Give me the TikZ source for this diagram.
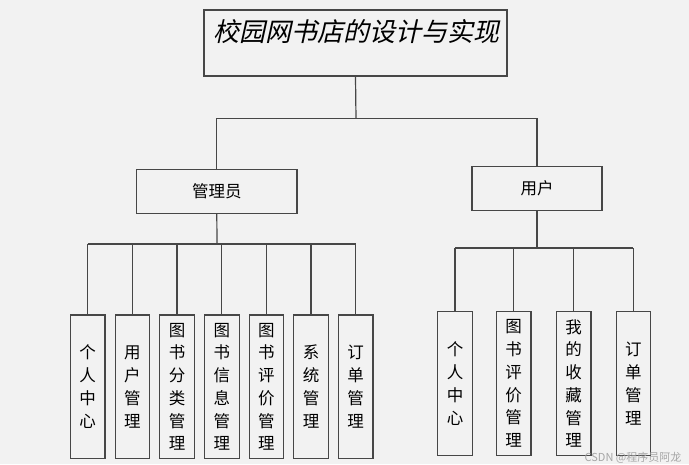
\documentclass[tikz,border=0pt]{standalone}
\usepackage{fontspec}
\newfontfamily\cjk{Noto Sans CJK SC}
\newfontfamily\cjkit{Noto Sans CJK SC}[FakeSlant=0.22]
\begin{document}
\begin{tikzpicture}[x=1pt,y=-1pt,
  box/.style={draw=black!72,line width=1.2pt,inner sep=0pt,fill=none},
  leaf/.style={box,minimum width=34.6pt,minimum height=143.7pt,align=center,
    font=\cjk\fontsize{16.5}{23}\selectfont},
  wire/.style={draw=black!72,line width=1.2pt}]
\fill[fill={rgb,255:red,242;green,242;blue,242}] (0,0) rectangle (689,464);
\useasboundingbox (0,0) rectangle (689,464);
% title
\node[box,minimum width=303pt,minimum height=66pt] (title) at (355.5,43) {};
\node[font=\cjkit\fontsize{26}{30}\selectfont,inner sep=0pt] (titletext) at (356,32) {校园网书店的设计与实现};
% second level
\node[box,minimum width=160.3pt,minimum height=43.6pt,font=\cjk\fontsize{16.5}{20}\selectfont] (admin) at (216.8,191.5) {管理员};
\node[box,minimum width=130pt,minimum height=43.6pt,font=\cjk\fontsize{16.5}{20}\selectfont] (user) at (537,188.5) {用户};
\coordinate (bus1) at (356,118.7);
\draw[wire] (title.south) -- (bus1);
\draw[wire] (admin.north) -- (admin.north |- bus1) -- (user.north |- bus1) -- (user.north);
% admin leaves
\node[leaf] (a1) at (87.7,386.8) {个\\人\\中\\心};
\node[leaf] (a2) at (132.4,386.8) {用\\户\\管\\理};
\node[leaf,font=\cjk\fontsize{16.5}{22.7}\selectfont] (a3) at (177,386.8) {图\\书\\分\\类\\管\\理};
\node[leaf,font=\cjk\fontsize{16.5}{22.7}\selectfont] (a4) at (221.8,386.8) {图\\书\\信\\息\\管\\理};
\node[leaf,font=\cjk\fontsize{16.5}{22.7}\selectfont] (a5) at (266.4,386.8) {图\\书\\评\\价\\管\\理};
\node[leaf] (a6) at (311,386.8) {系\\统\\管\\理};
\node[leaf] (a7) at (355.7,386.8) {订\\单\\管\\理};
\coordinate (bus2) at (217,244);
\draw[wire] (admin.south) -- (bus2);
\draw[wire] (a1.north |- bus2) -- (a7.north |- bus2);
\foreach \n in {a1,a2,a3,a4,a5,a6,a7} \draw[wire] (\n.north) -- (\n.north |- bus2);
% user leaves
\node[leaf] (u1) at (455,383.5) {个\\人\\中\\心};
\node[leaf,font=\cjk\fontsize{16.5}{22.7}\selectfont] (u2) at (513.7,383.5) {图\\书\\评\\价\\管\\理};
\node[leaf,font=\cjk\fontsize{16.5}{22.7}\selectfont] (u3) at (573.7,383.5) {我\\的\\收\\藏\\管\\理};
\node[leaf] (u4) at (633.4,383.5) {订\\单\\管\\理};
\coordinate (bus3) at (537,248);
\draw[wire] (user.south) -- (bus3);
\draw[wire] (u1.north |- bus3) -- (u4.north |- bus3);
\foreach \n in {u1,u2,u3,u4} \draw[wire] (\n.north) -- (\n.north |- bus3);
% watermark
\node[font=\cjk\fontsize{11}{13}\selectfont,text=black!35,inner sep=0pt] (wm) at (633,457.5) {CSDN @程序员阿龙};
\end{tikzpicture}
\end{document}
